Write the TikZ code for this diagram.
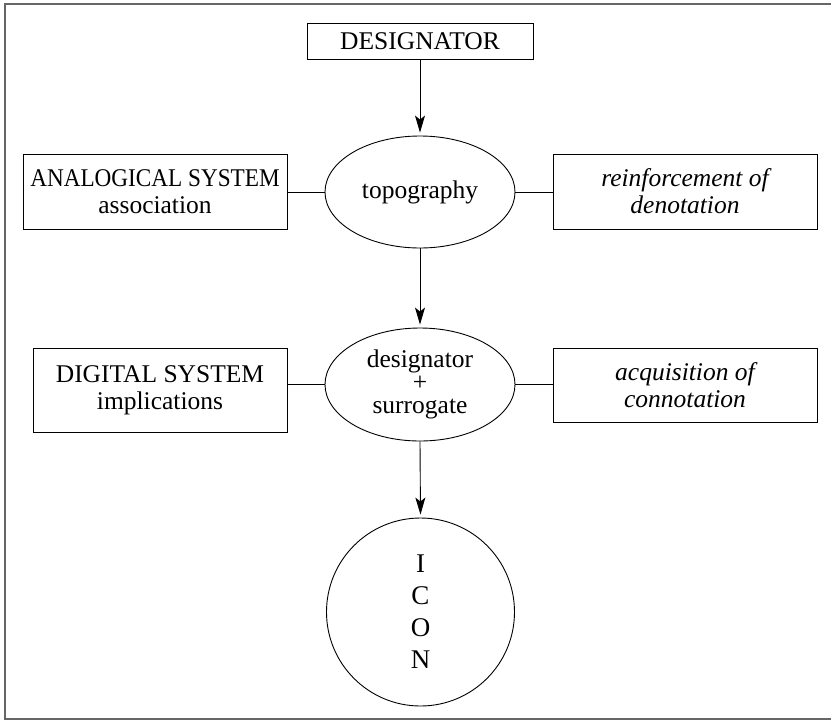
\documentclass[tikz,border=0pt]{standalone}
\usepackage{fontspec}
\setmainfont{Liberation Serif}[
  ItalicFont=Liberation Serif Italic,
  BoldFont=Liberation Serif Bold]
\usetikzlibrary{shapes.geometric,arrows.meta}
\begin{document}
\begin{tikzpicture}[x=1pt,y=-1pt,
  every node/.style={inner sep=0pt,align=center,text=black,
    font=\fontsize{25.5}{27}\selectfont},
  boxnode/.style={draw,line width=0.9pt,rectangle},
  ovalnode/.style={draw,line width=0.9pt,ellipse,minimum width=190pt,minimum height=112pt},
  roundnode/.style={draw,line width=0.9pt,circle,minimum size=188pt},
  flow/.style={line width=0.9pt,-{Stealth[length=17pt,width=10pt,inset=4pt]},shorten >=3pt},
  link/.style={line width=0.9pt},
  frame/.style={draw=black!60,line width=2pt}]
  \useasboundingbox (0,0) rectangle (831,721);
  % outer frame (right side runs off the page)
  \draw[frame] (840,4) -- (5,4) -- (5,719) -- (840,719);

  % central column
  \node[boxnode,minimum width=226pt,minimum height=36pt] (des) at (420,41) {DESIGNATOR};
  \node[ovalnode] (topo) at (420,192) {topography};
  \node[ovalnode,minimum height=113pt,font=\fontsize{25.5}{23}\selectfont] (dsur) at (420,384.5)
    {designator\\+\\surrogate};
  \node[roundnode,font=\fontsize{27}{32}\selectfont] (icon) at (420.5,612) {I\\C\\O\\N};

  % side boxes
  \node[boxnode,minimum width=264pt,minimum height=75pt] (ana) at (155,191.5)
    {\scalebox{0.91}[1]{ANALOGICAL SYSTEM}\\association};
  \node[boxnode,minimum width=264pt,minimum height=75pt] (rein) at (685,191.5)
    {\itshape reinforcement of\\\itshape denotation};
  \node[boxnode,minimum width=254pt,minimum height=84pt] (dig) at (160,390)
    {DIGITAL SYSTEM\\implications};
  \node[boxnode,minimum width=264pt,minimum height=74pt] (acq) at (685,385)
    {\itshape acquisition of\\\itshape connotation};

  % connectors
  \draw[flow] (des.south) -- (topo.north);
  \draw[flow] (topo.south) -- (dsur.north);
  \draw[flow] (dsur.south) -- (icon.north);
  \draw[link] (topo.west) -- (topo.west -| ana.east);
  \draw[link] (topo.east) -- (topo.east -| rein.west);
  \draw[link] (dsur.west) -- (dsur.west -| dig.east);
  \draw[link] (dsur.east) -- (dsur.east -| acq.west);
\end{tikzpicture}
\end{document}
